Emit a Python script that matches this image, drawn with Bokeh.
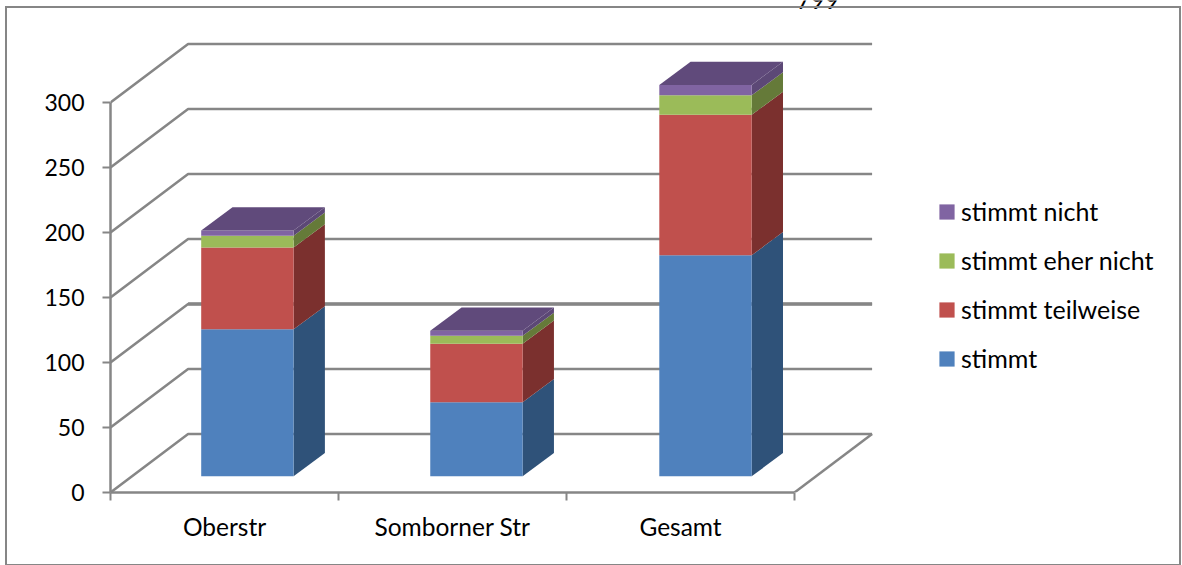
from bokeh.plotting import figure
from bokeh.embed import file_html
from bokeh.resources import INLINE
from bokeh.models import (Range1d, LinearAxis, FixedTicker, Legend, LegendItem,
                          Label, InlineStyleSheet)

categories = ["Oberstr", "Somborner Str", "Gesamt"]
series_names = ["stimmt", "stimmt teilweise", "stimmt eher nicht", "stimmt nicht"]
stimmt = [113, 57, 170]
stimmt_teilweise = [63, 45, 108]
stimmt_eher_nicht = [9, 6, 15]
stimmt_nicht = [4, 4, 8]
y_ticks = [0, 50, 100, 150, 200, 250, 300]
front_colors = ["#4F81BD", "#C0504D", "#9BBB59", "#8064A2"]
side_colors = ["#2F5279", "#7B302E", "#657A39", "#5C4876"]
top_color = "#604A7B"
axis_color = "#868686"
font = "Lato"
tick_size = "23px"
cat_size = "24.5px"
legend_size = "25px"

series = [stimmt, stimmt_teilweise, stimmt_eher_nicht, stimmt_nicht]

W, H = 1182, 565
LEFT, BOTTOM_PX = 110, 492
PX_PER_UNIT = 1.3
PX_PER_CAT = 228.0

p = figure(width=W, height=H, output_backend="svg", toolbar_location=None,
           x_range=Range1d(0, (W - LEFT) / PX_PER_CAT),
           y_range=Range1d(0, BOTTOM_PX / PX_PER_UNIT),
           x_axis_type=None, y_axis_type=None,
           min_border_left=LEFT, min_border_right=0, min_border_top=0,
           min_border_bottom=H - BOTTOM_PX, outline_line_color=None)
p.grid.visible = False
p.background_fill_color = "white"
p.border_fill_color = "white"
p.styles = {"position": "absolute", "left": "0px", "top": "0px"}
# outer frame of the chart, which lies outside the plot's inner frame
p.stylesheets = [InlineStyleSheet(css=(
    ":host::after {content: ''; position: absolute; left: 5px; top: 6px; "
    "width: 1172px; height: 556px; border: 2px solid " + axis_color + "; "
    "pointer-events: none; box-sizing: content-box;}"))]

# wall / floor depth in axis units
DX = 77.6 / PX_PER_CAT
DY = 58.6 / PX_PER_UNIT
n = len(categories)

# walls
wall_xs = [[0, DX, n + DX] for _ in y_ticks]
wall_ys = [[v, v + DY, v + DY] for v in y_ticks]
p.multi_line(wall_xs, wall_ys, line_color=axis_color, line_width=2.5)
thick = 100
p.line([DX, n + DX], [thick + DY, thick + DY], line_color=axis_color, line_width=3.5)
p.line([n, n + DX], [0, DY], line_color=axis_color, line_width=2.5)

# bars
BAR_W = 92.4 / PX_PER_CAT
BAR_DX = 31.3 / PX_PER_CAT
BAR_DY = 23.2 / PX_PER_UNIT
BASE = 12.5
bar_c = [(136.9 + i * 229.05) / PX_PER_CAT for i in range(n)]

bottoms = [BASE] * n
front_renderers = []
for k, vals in enumerate(series):
    tops = [b + v for b, v in zip(bottoms, vals)]
    lefts = [c - BAR_W / 2 for c in bar_c]
    rights = [c + BAR_W / 2 for c in bar_c]
    side_x = [[r, r + BAR_DX, r + BAR_DX, r] for r in rights]
    side_y = [[b, b + BAR_DY, t + BAR_DY, t] for b, t in zip(bottoms, tops)]
    p.patches(side_x, side_y, fill_color=side_colors[k], line_color=None)
    r = p.quad(left=lefts, right=rights, bottom=bottoms, top=tops,
               fill_color=front_colors[k], line_color=None)
    front_renderers.append(r)
    bottoms = tops

top_x = [[c - BAR_W / 2, c + BAR_W / 2, c + BAR_W / 2 + BAR_DX, c - BAR_W / 2 + BAR_DX] for c in bar_c]
top_y = [[t, t, t + BAR_DY, t + BAR_DY] for t in bottoms]
p.patches(top_x, top_y, fill_color=top_color, line_color=None)

# axes
yaxis = LinearAxis(ticker=FixedTicker(ticks=y_ticks), bounds=(0, 300))
yaxis.axis_line_color = axis_color
yaxis.axis_line_width = 2.5
yaxis.major_tick_line_color = axis_color
yaxis.major_tick_line_width = 2
yaxis.major_tick_in = 0
yaxis.major_tick_out = 8
yaxis.minor_tick_line_color = None
yaxis.major_label_standoff = 18
yaxis.major_label_text_font = font
yaxis.major_label_text_font_size = tick_size
yaxis.major_label_text_color = "black"
p.add_layout(yaxis, "left")

centers = [i + 0.5 for i in range(n)]
xaxis = LinearAxis(ticker=FixedTicker(ticks=centers, minor_ticks=list(range(n + 1))), bounds=(0, n))
xaxis.major_label_overrides = dict(zip(centers, categories))
xaxis.axis_line_color = axis_color
xaxis.axis_line_width = 2.5
xaxis.major_tick_line_color = None
xaxis.major_tick_in = 0
xaxis.major_tick_out = 8
xaxis.minor_tick_line_color = axis_color
xaxis.minor_tick_line_width = 2
xaxis.minor_tick_in = 0
xaxis.minor_tick_out = 8
xaxis.major_label_standoff = 11
xaxis.major_label_text_font = font
xaxis.major_label_text_font_size = cat_size
xaxis.major_label_text_color = "black"
p.add_layout(xaxis, "below")

# legend
items = [LegendItem(label=series_names[k], renderers=[front_renderers[k]]) for k in reversed(range(4))]
legend = Legend(items=items, location=(827, 119), glyph_width=19, glyph_height=19,
                label_standoff=5, spacing=19, padding=0, margin=0,
                border_line_color=None, background_fill_alpha=0,
                label_text_font=font, label_text_font_size=legend_size, label_text_color="black")
p.add_layout(legend, "center")

# clipped text at the top edge
p.add_layout(Label(x=(796 - LEFT) / PX_PER_CAT, y=(BOTTOM_PX + 1) / PX_PER_UNIT, text="799",
                   text_font=font, text_font_size="24.5px", text_color="black",
                   text_baseline="alphabetic"))

open("out.html", "w").write(file_html(p, INLINE))
